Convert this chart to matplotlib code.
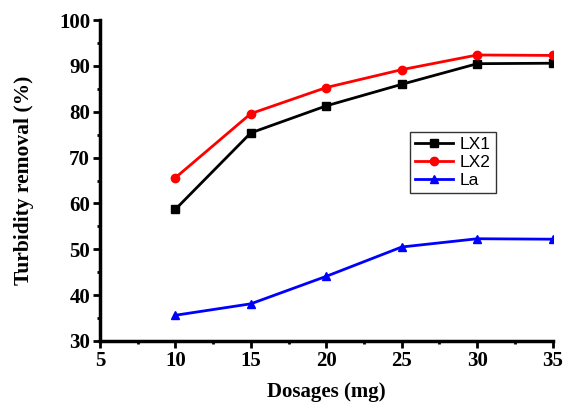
import matplotlib
matplotlib.use('Agg')
import matplotlib.pyplot as plt
from matplotlib.ticker import MultipleLocator

dosage = [10, 15, 20, 25, 30, 35]
lx1 = [58.7, 75.4, 81.3, 86.0, 90.5, 90.6]
lx2 = [65.6, 79.6, 85.3, 89.2, 92.4, 92.3]
la = [35.6, 38.1, 44.1, 50.5, 52.3, 52.2]

plt.rcParams['font.family'] = 'Liberation Serif'

fig = plt.figure(figsize=(5.64, 4.03), dpi=100)
ax = fig.add_axes([0.177, 0.154, 0.803, 0.796])

ax.plot(dosage, lx1, color='black', marker='s', markersize=6, linewidth=2, label='LX1')
ax.plot(dosage, lx2, color='red', marker='o', markersize=6, linewidth=2, label='LX2')
ax.plot(dosage, la, color='blue', marker='^', markersize=6, linewidth=2, label='La')

ax.set_xlim(5, 35)
ax.set_ylim(30, 100)
ax.xaxis.set_major_locator(MultipleLocator(5))
ax.xaxis.set_minor_locator(MultipleLocator(2.5))
ax.yaxis.set_major_locator(MultipleLocator(10))
ax.yaxis.set_minor_locator(MultipleLocator(5))

for s in ['top', 'right']:
    ax.spines[s].set_visible(False)
for s in ['left', 'bottom']:
    ax.spines[s].set_linewidth(2.5)
ax.tick_params(which='major', direction='out', length=5, width=2, labelsize=15, pad=2)
ax.tick_params(which='minor', direction='out', length=2.5, width=2)
for lbl in ax.get_xticklabels() + ax.get_yticklabels():
    lbl.set_fontweight('bold')

ax.set_xlabel('Dosages (mg)', fontsize=15, fontweight='bold', labelpad=8)
ax.set_ylabel('Turbidity removal (%)', fontsize=15.5, fontweight='bold', labelpad=18)

leg = ax.legend(loc='upper left', bbox_to_anchor=(0.684, 0.652), prop={'family': 'Liberation Sans', 'size': 12.5},
                fancybox=False, edgecolor='black', handlelength=2.2, borderpad=0.3, labelspacing=0.15,
                handletextpad=0.4, borderaxespad=0)
leg.get_frame().set_linewidth(1)

plt.savefig('out.png', dpi=100)
